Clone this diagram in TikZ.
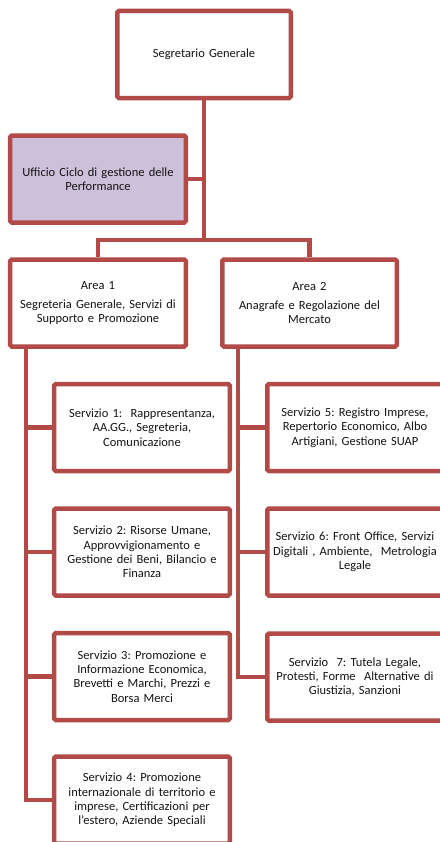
\documentclass[tikz,border=0pt]{standalone}
\usepackage{fontspec}
\setmainfont[WordSpace=0.8]{Carlito}
\definecolor{orgred}{RGB}{178,74,72}
\definecolor{orglilac}{RGB}{204,192,218}

\begin{document}
\begin{tikzpicture}
    [x=1bp,y=-1bp,
     box/.style={rectangle,draw=orgred,line width=4.5bp,rounded corners=1.5bp,fill=white,
       minimum width=175.5bp,minimum height=87bp,text width=172bp,align=center,inner sep=0pt,
       font=\fontsize{12.5bp}{14.3bp}\selectfont\frenchspacing,text=black!92},
     link/.style={draw=orgred,line width=4.5bp}]
    \useasboundingbox (0,0) rectangle (440,842);
    \node (segr)  at (204,54.5)  [box,minimum width=173.5bp] {Segretario Generale};
    \node (uff)   at (98,179)    [box,fill=orglilac] {Ufficio Ciclo di gestione delle\\Performance};
    \node (area1) at (98,303)    [box] {Area 1\\[5bp]Segreteria Generale, Servizi di\\Supporto e Promozione};
    \node (area2) at (309.5,303) [box,minimum width=174.5bp] {Area 2\\[5bp]Anagrafe e Regolazione del\\Mercato};
    \node (serv1) at (142,427.5) [box] {Servizio 1:\ \ Rappresentanza,\\AA.GG., Segreteria,\\Comunicazione};
    \node (serv2) at (142,552)   [box] {Servizio 2: Risorse Umane,\\Approvvigionamento e\\Gestione dei Beni, Bilancio e\\Finanza};
    \node (serv3) at (142,676.5) [box] {Servizio 3: Promozione e\\Informazione Economica,\\Brevetti e Marchi, Prezzi e\\Borsa Merci};
    \node (serv4) at (142,800)   [box] {Servizio 4: Promozione\\internazionale di territorio e\\imprese, Certificazioni per\\l'estero, Aziende Speciali};
    \node (serv5) at (355,427.5) [box] {Servizio 5: Registro Imprese,\\Repertorio Economico, Albo\\Artigiani, Gestione SUAP};
    \node (serv6) at (355,552)   [box] {Servizio 6: Front Office, Servizi\\Digitali , Ambiente,\ \ Metrologia\\Legale};
    \node (serv7) at (355,677)   [box] {Servizio\ \ 7: Tutela Legale,\\Protesti, Forme\ \ Alternative di\\Giustizia, Sanzioni};
    % links
    \coordinate (bar) at (204,240);
    \coordinate (spine1) at ([xshift=18bp]area1.south west);
    \coordinate (spine2) at ([xshift=18bp]area2.south west);
    \draw [link] (segr) -- (bar);
    \draw [link] (uff.east) -- (uff.east -| bar);
    \draw [link] (area1) |- (bar) -| (area2);
    \foreach \s in {serv1,serv2,serv3,serv4}
      \draw [link] (spine1) |- (\s.west);
    \foreach \s in {serv5,serv6,serv7}
      \draw [link] (spine2) |- (\s.west);
  \end{tikzpicture}
\end{document}
